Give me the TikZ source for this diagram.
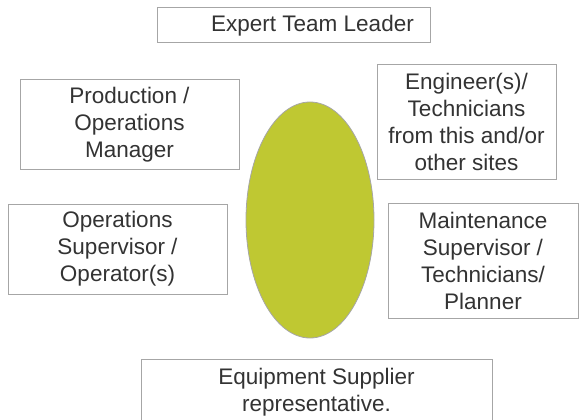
\documentclass[tikz,border=0pt]{standalone}
\usepackage{fontspec}
\setmainfont{Liberation Sans}
\usetikzlibrary{shapes.geometric}
\definecolor{boxline}{HTML}{A6A6A6}
\definecolor{txt}{HTML}{333333}
\definecolor{olive}{HTML}{BFC832}
\begin{document}
\begin{tikzpicture}[x=1pt,y=-1pt,
  rolebox/.style={draw=boxline, line width=1pt, fill=white, inner sep=0pt},
  roletext/.style={text=txt, align=center, font=\fontsize{22.5}{27}\selectfont, inner sep=0pt},
  hub/.style={ellipse, draw=boxline, line width=0.8pt, fill=olive, inner sep=0pt}]
\useasboundingbox (0,0) rectangle (579,420);
\clip (0,0) rectangle (579,420);
% top box
\node[rolebox, minimum width=273pt, minimum height=35pt] (top) at (293.5,25.5) {};
\node[roletext] (toptext) at (312.5,25.5) {Expert Team Leader};
% production
\node[rolebox, minimum width=219pt, minimum height=89pt, roletext] (prod) at (129.5,124.5) {Production /\\Operations\\Manager};
% operations supervisor
\node[rolebox, minimum width=219pt, minimum height=90pt, roletext] (ops) at (117.5,249) {Operations\\Supervisor /\\Operator(s)};
% engineer
\node[rolebox, minimum width=179pt, minimum height=115pt, roletext] (eng) at (466.5,122) {Engineer(s)/\\Technicians\\from this and/or\\other sites};
% maintenance
\node[rolebox, minimum width=190pt, minimum height=115pt, roletext] (maint) at (483,260.5) {Maintenance\\Supervisor /\\Technicians/\\Planner};
% ellipse
\node[hub, minimum width=128pt, minimum height=236pt] (center) at (310,220) {};
% bottom box
\node[rolebox, minimum width=351pt, minimum height=67pt, roletext] (supp) at (316.5,392.5) {Equipment Supplier\\representative.};
\end{tikzpicture}
\end{document}
